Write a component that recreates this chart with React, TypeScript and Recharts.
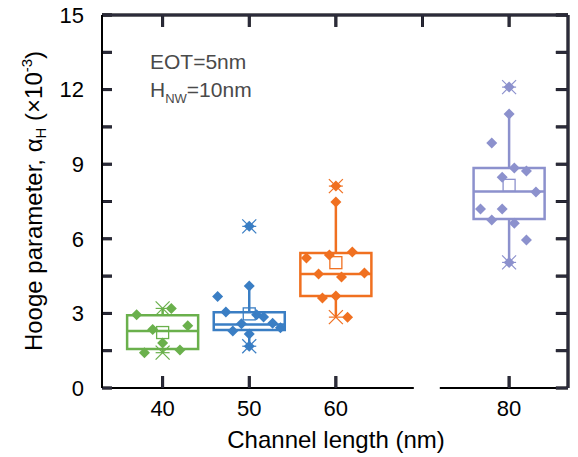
import React from "react";
import { ComposedChart, XAxis, YAxis, Scatter, ReferenceArea, ReferenceLine } from "recharts";

const FONT = "'Liberation Sans', Arial, sans-serif";
// frame and tick colours (drawn twice, overlapping)
const INKS = ["#000000", "#2b2b3a"];
const INK_WIDTHS = [3, 2.5];

// channel lengths (nm) and group colours
const lengths = [40, 50, 60, 80];
const colors = ["#6AB04C", "#3A7EC4", "#F07020", "#8C91CD"];

// box statistics (x10^-3)
const q1 = [1.57, 2.33, 3.7, 6.8];
const medians = [2.29, 2.55, 4.58, 7.9];
const q3 = [2.93, 3.05, 5.43, 8.85];
const whiskerLow = [1.42, 1.68, 2.85, 5.05];
const whiskerHigh = [3.2, 4.1, 7.48, 11.02];
const means = [2.23, 2.98, 5.04, 8.15];
const minima = [1.42, 1.68, 2.85, 5.05];
const maxima = [3.2, 6.5, 8.12, 12.1];

// raw points: horizontal jitter (nm from group centre) and values
const offsets40 = [-3.0, 1.0, -1.15, 2.9, 0, -2.1, 2.0];
const values40 = [2.95, 3.2, 2.35, 2.5, 1.81, 1.42, 1.53];
const offsets50 = [0, -3.65, 0, -2.7, 0.85, 1.65, -0.9, 2.7, 3.6, -1.9, 0, 0];
const values50 = [6.5, 3.68, 4.1, 3.06, 2.95, 2.86, 2.58, 2.6, 2.42, 2.29, 2.17, 1.68];
const offsets60 = [0, 0, -3.4, -0.75, 1.9, -2.0, 0.65, 3.3, -1.55, 0, 1.35];
const values60 = [8.12, 7.48, 5.23, 5.35, 5.47, 4.58, 4.46, 4.62, 3.62, 3.7, 2.85];
const offsets80 = [0, 0, -2.0, 0.6, 2.0, -0.8, 3.1, -3.3, -0.8, -2.0, 0.6, 2.0, 0];
const values80 = [12.1, 11.02, 9.85, 8.85, 8.73, 8.48, 7.88, 7.2, 7.2, 6.76, 6.63, 5.95, 5.05];

const groupOffsets = [offsets40, offsets50, offsets60, offsets80];
const groupValues = [values40, values50, values60, values80];

const xTicksBottom = [40, 50, 60, 80];
const xTicksTop = [40, 50, 60, 70, 80];
const yTicks = [0, 1.5, 3, 4.5, 6, 7.5, 9, 10.5, 12, 13.5, 15];

const BOX_HALF = 4.1;
const X_DOMAIN: [number, number] = [33, 86.8];
const Y_DOMAIN: [number, number] = [0, 15];
const BREAK: [number, number] = [69, 72];

// inward tick lengths in axis units (~10-12 px)
const X_TICK = 0.48;
const Y_TICK_LEFT = 1.15;
const Y_TICK_RIGHT = 1.4;

type Pt = { x: number; y: number };

// every frame/tick segment, in axis units
const frameSegments: [Pt, Pt][] = [
  [{ x: X_DOMAIN[0], y: Y_DOMAIN[1] }, { x: X_DOMAIN[1], y: Y_DOMAIN[1] }],
  [{ x: X_DOMAIN[1], y: Y_DOMAIN[0] }, { x: X_DOMAIN[1], y: Y_DOMAIN[1] }],
  ...xTicksBottom.map((t) => [{ x: t, y: Y_DOMAIN[0] }, { x: t, y: Y_DOMAIN[0] + X_TICK }] as [Pt, Pt]),
  ...xTicksTop.map((t) => [{ x: t, y: Y_DOMAIN[1] - X_TICK }, { x: t, y: Y_DOMAIN[1] }] as [Pt, Pt]),
  ...yTicks.map((t) => [{ x: X_DOMAIN[0], y: t }, { x: X_DOMAIN[0] + Y_TICK_LEFT, y: t }] as [Pt, Pt]),
  ...yTicks.map((t) => [{ x: X_DOMAIN[1] - Y_TICK_RIGHT, y: t }, { x: X_DOMAIN[1], y: t }] as [Pt, Pt]),
];

const Diamond = (props: any) => {
  const { cx, cy, fill } = props;
  const r = 5.5;
  return <path d={`M${cx},${cy - r}L${cx + r},${cy}L${cx},${cy + r}L${cx - r},${cy}Z`} fill={fill} />;
};

const MeanSquare = (props: any) => {
  const { cx, cy, stroke } = props;
  return <rect x={cx - 6} y={cy - 6} width={12} height={12} fill="none" stroke={stroke} strokeWidth={1.3} />;
};

const Cross = (props: any) => {
  const { cx, cy, stroke } = props;
  const r = 7;
  return (
    <g stroke={stroke} strokeWidth={1.2}>
      <line x1={cx - r} y1={cy - r} x2={cx + r} y2={cy + r} />
      <line x1={cx - r} y1={cy + r} x2={cx + r} y2={cy - r} />
      <line x1={cx - r} y1={cy} x2={cx + r} y2={cy} />
    </g>
  );
};

export default function App() {
  const tickStyle = { fill: "#000", fontSize: 22, fontFamily: FONT };

  return (
    <div style={{ position: "absolute", left: 0, top: 0, width: 578, height: 457, background: "#fff" }}>
      <ComposedChart width={578} height={457} margin={{ top: 15, right: 10, bottom: 0, left: 0 }}>
        <XAxis
          type="number"
          dataKey="x"
          domain={X_DOMAIN}
          ticks={xTicksBottom}
          interval={0}
          height={69}
          axisLine={false}
          tickLine={false}
          tickSize={0}
          tickMargin={12}
          tick={tickStyle}
        />
        <YAxis
          type="number"
          dataKey="y"
          domain={Y_DOMAIN}
          ticks={yTicks}
          interval={0}
          width={102}
          axisLine={{ stroke: "#000", strokeWidth: 2 }}
          tickLine={false}
          tickSize={0}
          tickMargin={18}
          tick={tickStyle}
          tickFormatter={(v: number) => (v % 3 === 0 ? String(v) : "")}
        />

        {/* bottom axis with a break between 60 and 80 */}
        <ReferenceLine segment={[{ x: X_DOMAIN[0], y: Y_DOMAIN[0] }, { x: BREAK[0], y: Y_DOMAIN[0] }]} stroke="#000" strokeWidth={2} ifOverflow="visible" />
        <ReferenceLine segment={[{ x: BREAK[1], y: Y_DOMAIN[0] }, { x: X_DOMAIN[1], y: Y_DOMAIN[0] }]} stroke="#000" strokeWidth={2} ifOverflow="visible" />

        {/* top/right borders and inward ticks */}
        {INKS.map((ink, k) =>
          frameSegments.map((seg, j) => (
            <ReferenceLine key={`frame-${k}-${j}`} segment={seg} stroke={ink} strokeWidth={INK_WIDTHS[k]} ifOverflow="visible" />
          ))
        )}

        {lengths.map((L, i) => (
          <ReferenceArea key={`box-${L}`} x1={L - BOX_HALF} x2={L + BOX_HALF} y1={q1[i]} y2={q3[i]} fill="none" fillOpacity={0} stroke={colors[i]} strokeWidth={2.5} />
        ))}
        {lengths.map((L, i) => (
          <ReferenceLine key={`med-${L}`} segment={[{ x: L - BOX_HALF, y: medians[i] }, { x: L + BOX_HALF, y: medians[i] }]} stroke={colors[i]} strokeWidth={2.5} />
        ))}
        {lengths.map((L, i) => (
          <ReferenceLine key={`wh-${L}`} segment={[{ x: L, y: q3[i] }, { x: L, y: whiskerHigh[i] }]} stroke={colors[i]} strokeWidth={2.5} />
        ))}
        {lengths.map((L, i) => (
          <ReferenceLine key={`wl-${L}`} segment={[{ x: L, y: q1[i] }, { x: L, y: whiskerLow[i] }]} stroke={colors[i]} strokeWidth={2.5} />
        ))}

        {lengths.map((L, i) => (
          <Scatter key={`pts-${L}`} data={groupValues[i].map((v, j) => ({ x: L + groupOffsets[i][j], y: v }))} fill={colors[i]} shape={<Diamond />} isAnimationActive={false} />
        ))}
        {lengths.map((L, i) => (
          <Scatter key={`mean-${L}`} data={[{ x: L, y: means[i] }]} stroke={colors[i]} shape={<MeanSquare />} isAnimationActive={false} />
        ))}
        {lengths.map((L, i) => (
          <Scatter key={`ext-${L}`} data={[{ x: L, y: minima[i] }, { x: L, y: maxima[i] }]} stroke={colors[i]} shape={<Cross />} isAnimationActive={false} />
        ))}
      </ComposedChart>

      <svg width={578} height={457} style={{ position: "absolute", left: 0, top: 0, pointerEvents: "none" }} fontFamily={FONT}>
        <text transform="translate(42,201) rotate(-90)" textAnchor="middle" fontSize={24} fill="#000">
          Hooge parameter, α<tspan fontSize={15} dy={4}>H</tspan>
          <tspan dy={-4}> (×10</tspan>
          <tspan fontSize={15} dy={-10}>-3</tspan>
          <tspan dy={10}>)</tspan>
        </text>
        <text x={336} y={448} textAnchor="middle" fontSize={24} fill="#000">
          Channel length (nm)
        </text>
        <text x={150} y={69} fontSize={21} fill="#4a4a4a">
          EOT=5nm
        </text>
        <text x={150} y={97} fontSize={21} fill="#4a4a4a">
          H<tspan fontSize={13} dy={6}>NW</tspan>
          <tspan dy={-6}>=10nm</tspan>
        </text>
      </svg>
    </div>
  );
}
